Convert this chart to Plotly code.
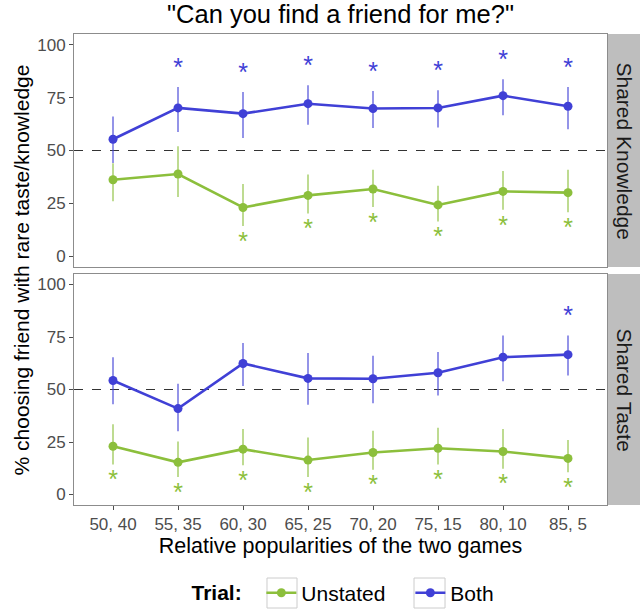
import plotly.graph_objects as go

# Conditions on the x axis: relative popularities of the two games
categories = ["50, 40", "55, 35", "60, 30", "65, 25", "70, 20", "75, 15", "80, 10", "85, 5"]

# Shared Knowledge panel
know_both = [55.3, 70.1, 67.4, 72.1, 69.8, 70.1, 75.9, 70.9]
know_both_hi = [66.1, 80.0, 77.6, 80.8, 78.1, 78.4, 83.6, 80.0]
know_both_lo = [44.1, 58.7, 55.9, 62.2, 60.6, 60.9, 66.6, 60.0]
know_both_sig = [False, True, True, True, True, True, True, True]

know_unst = [36.2, 38.9, 23.1, 28.8, 31.8, 24.3, 30.7, 30.1]
know_unst_hi = [44.0, 52.0, 34.2, 38.7, 40.9, 33.4, 40.3, 40.9]
know_unst_lo = [26.1, 28.0, 14.3, 20.2, 23.3, 16.5, 22.0, 20.8]
know_unst_sig = [False, False, True, True, True, True, True, True]

# Shared Taste panel
taste_both = [54.3, 40.9, 62.4, 55.3, 55.1, 58.0, 65.4, 66.6]
taste_both_hi = [65.4, 52.8, 72.1, 67.4, 66.1, 67.9, 75.7, 75.7]
taste_both_lo = [43.0, 30.1, 51.7, 42.7, 43.5, 47.2, 53.9, 56.7]
taste_both_sig = [False, False, False, False, False, False, False, True]

taste_unst = [23.0, 15.3, 21.6, 16.4, 20.0, 22.0, 20.5, 17.2]
taste_unst_hi = [33.4, 25.2, 31.2, 27.2, 30.4, 31.8, 31.2, 26.0]
taste_unst_lo = [14.3, 8.3, 13.9, 8.3, 11.8, 14.3, 12.3, 10.6]
taste_unst_sig = [True, True, True, True, True, True, True, True]

panels = ["Shared Knowledge", "Shared Taste"]
y_ticks = [0, 25, 50, 75, 100]

BLUE = "#4040D6"
GREEN = "#8CBF3C"
BLUE_BAR = "rgba(64,64,214,0.75)"
GREEN_BAR = "rgba(140,191,60,0.75)"
STAR_OFFSET = 8.3
FONT = "Liberation Sans, Arial, sans-serif"

fig = go.Figure()


def add_series(name, vals, hi, lo, sig, color, bar_color, xa, ya, show, above):
    fig.add_trace(go.Scatter(
        x=categories, y=vals, name=name, mode="lines+markers",
        line=dict(color=color, width=2.6), marker=dict(color=color, size=9),
        error_y=dict(type="data", symmetric=False,
                     array=[h - v for h, v in zip(hi, vals)],
                     arrayminus=[v - l for v, l in zip(vals, lo)],
                     color=bar_color, thickness=1.5, width=0),
        xaxis=xa, yaxis=ya, showlegend=show, hoverinfo="skip",
    ))
    sx = [c for c, s in zip(categories, sig) if s]
    if above:
        sy = [h + STAR_OFFSET for h, s in zip(hi, sig) if s]
    else:
        sy = [l - STAR_OFFSET for l, s in zip(lo, sig) if s]
    fig.add_trace(go.Scatter(
        x=sx, y=sy, mode="text", text=["*"] * len(sx), textposition="middle center",
        textfont=dict(color=color, size=25, family=FONT),
        xaxis=xa, yaxis=ya, showlegend=False, hoverinfo="skip",
    ))


add_series("Unstated", know_unst, know_unst_hi, know_unst_lo, know_unst_sig, GREEN, GREEN_BAR, "x", "y", True, False)
add_series("Both", know_both, know_both_hi, know_both_lo, know_both_sig, BLUE, BLUE_BAR, "x", "y", True, True)
add_series("Unstated", taste_unst, taste_unst_hi, taste_unst_lo, taste_unst_sig, GREEN, GREEN_BAR, "x2", "y2", False, False)
add_series("Both", taste_both, taste_both_hi, taste_both_lo, taste_both_sig, BLUE, BLUE_BAR, "x2", "y2", False, True)

frame = dict(showline=True, linecolor="#8C8C8C", linewidth=1, mirror=True,
             showgrid=False, zeroline=False)
x_common = dict(type="category", categoryorder="array", categoryarray=categories,
                range=[-0.6, 7.6], **frame)
y_common = dict(range=[-5, 105], tickvals=y_ticks, ticks="outside", ticklen=4,
                tickcolor="#4D4D4D", tickfont=dict(size=17, color="#4D4D4D"), **frame)

fig.update_layout(
    width=642, height=609,
    margin=dict(l=74, r=35, t=34, b=104, autoexpand=False),
    paper_bgcolor="white", plot_bgcolor="white",
    font=dict(family=FONT, color="black"),
    xaxis=dict(anchor="y", showticklabels=False, ticks="", **x_common),
    yaxis=dict(domain=[0.5053, 1.0], anchor="x", **y_common),
    xaxis2=dict(anchor="y2", matches="x", ticks="outside", ticklen=4, tickcolor="#4D4D4D",
                tickfont=dict(size=17, color="#4D4D4D"),
                title=dict(text="Relative popularities of the two games",
                           font=dict(size=21.5), standoff=3), **x_common),
    yaxis2=dict(domain=[0.0, 0.4904], anchor="x2", **y_common),
    title=dict(text='"Can you find a friend for me?"', x=0.5, xref="paper", xanchor="center",
               y=0.977, yanchor="middle", font=dict(size=25.5)),
    legend=dict(orientation="h", x=0.2167, xanchor="left", y=-0.187, yanchor="middle",
                bgcolor="rgba(0,0,0,0)",
                title=dict(text="<b>Trial:</b>&nbsp;&nbsp;", font=dict(size=21)),
                font=dict(size=21), itemwidth=30, entrywidth=104, traceorder="normal"),
    showlegend=True,
)

# Reference line at 50% in each panel
for xa, ya in [("x", "y"), ("x2", "y2")]:
    fig.add_shape(type="line", xref=f"{xa} domain", yref=ya,
                  x0=0, x1=1, y0=50, y1=50,
                  line=dict(color="#333333", width=1.2, dash="dash"), layer="below")

# Facet strips on the right
for (y0, y1), label in zip([(0.5053, 1.0), (0.0, 0.4904)], panels):
    fig.add_shape(type="rect", xref="paper", yref="paper", x0=1.0019, x1=1.0619,
                  y0=y0, y1=y1, fillcolor="#BEBEBE", line=dict(width=0))
    fig.add_annotation(text=label, xref="paper", yref="paper", x=1.0319, y=(y0 + y1) / 2,
                       xanchor="center", yanchor="middle",
                       textangle=90, showarrow=False, font=dict(size=21, color="#1A1A1A"))

# Key boxes framing the legend symbols
for bx0, bx1 in [(0.3621, 0.4184), (0.6379, 0.6961)]:
    fig.add_shape(type="rect", xref="paper", yref="paper", x0=bx0, x1=bx1,
                  y0=-0.2187, y1=-0.155, line=dict(color="#CCCCCC", width=1),
                  fillcolor="rgba(0,0,0,0)")

# Shared y-axis title
fig.add_annotation(text="% choosing friend with rare taste/knowledge", xref="paper", yref="paper",
                   x=-0.0976, y=0.5, xanchor="center", yanchor="middle",
                   textangle=-90, showarrow=False, font=dict(size=21))

fig.write_html("out.html")
